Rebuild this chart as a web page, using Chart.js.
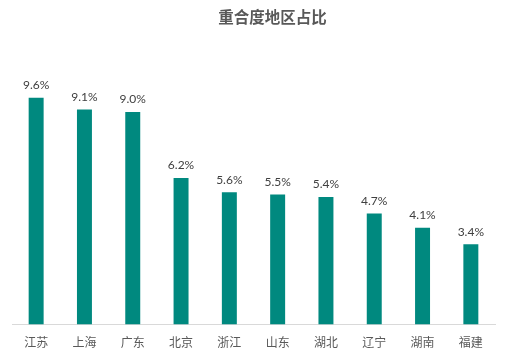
<!DOCTYPE html>
<html>
<head>
<meta charset="utf-8">
<script src="https://cdn.jsdelivr.net/npm/chart.js@4/dist/chart.umd.min.js"></script>
<style>
  html, body { margin: 0; padding: 0; background: #ffffff; }
  #wrap { width: 507px; height: 357px; position: relative; }
</style>
</head>
<body>
<div id="wrap"><canvas id="c" width="507" height="357"></canvas></div>
<script>
const titleText = '重合度地区占比';
const categories = ['江苏', '上海', '广东', '北京', '浙江', '山东', '湖北', '辽宁', '湖南', '福建'];
const shareValues = [9.6, 9.1, 9.0, 6.2, 5.6, 5.5, 5.4, 4.7, 4.1, 3.4];

const FONT = "Lato, 'Noto Sans CJK SC', sans-serif";

const titlePlugin = {
  id: 'customTitle',
  afterDraw(chart) {
    const ctx = chart.ctx;
    ctx.save();
    ctx.font = "bold 15.5px 'Noto Sans CJK SC', sans-serif";
    ctx.fillStyle = '#595959';
    ctx.textAlign = 'center';
    ctx.textBaseline = 'middle';
    ctx.fillText(titleText, 272.5, 17);
    ctx.restore();
  }
};

const valueLabels = {
  id: 'valueLabels',
  afterDatasetsDraw(chart) {
    const ctx = chart.ctx;
    const meta = chart.getDatasetMeta(0);
    ctx.save();
    ctx.font = "12px " + FONT;
    ctx.fillStyle = '#404040';
    ctx.textAlign = 'center';
    ctx.textBaseline = 'middle';
    meta.data.forEach((bar, i) => {
      ctx.fillText(shareValues[i].toFixed(1) + '%', bar.x, bar.y - 12.5);
    });
    ctx.restore();
  }
};

new Chart(document.getElementById('c'), {
  type: 'bar',
  data: {
    labels: categories,
    datasets: [{
      data: shareValues,
      backgroundColor: '#00897F',
      borderWidth: 0,
      categoryPercentage: 1,
      barPercentage: 0.31
    }]
  },
  options: {
    responsive: false,
    animation: false,
    devicePixelRatio: 1,
    layout: { padding: { top: 41, left: 12, right: 12, bottom: -4 } },
    plugins: {
      legend: { display: false },
      title: { display: false },
      tooltip: { enabled: false }
    },
    scales: {
      x: {
        grid: { display: false, drawTicks: false },
        border: { display: true, color: '#d9d9d9', width: 1 },
        ticks: { color: '#595959', font: { size: 12, family: FONT }, padding: 11, maxRotation: 0 }
      },
      y: {
        display: false,
        min: 0,
        max: 12
      }
    }
  },
  plugins: [titlePlugin, valueLabels]
});
</script>
</body>
</html>
